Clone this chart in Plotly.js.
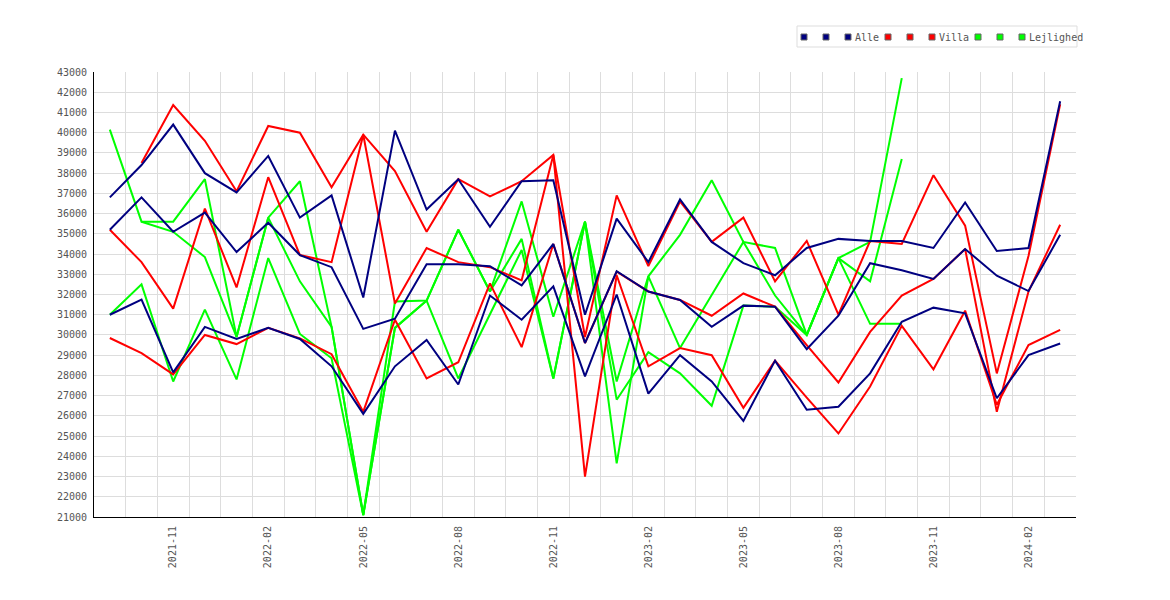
<!DOCTYPE html>
<html>
<head>
<meta charset="utf-8">
<script src="https://cdn.plot.ly/plotly-3.0.1.min.js"></script>
<style>
    html, body { margin: 0; padding: 0; background: #fff; }
    #graph { width: 1170px; height: 600px; }
</style>
</head>
<body>
<div id="graph"></div>
<script>
const months = [
    "2021-09", "2021-10", "2021-11", "2021-12",
    "2022-01", "2022-02", "2022-03", "2022-04", "2022-05", "2022-06",
    "2022-07", "2022-08", "2022-09", "2022-10", "2022-11", "2022-12",
    "2023-01", "2023-02", "2023-03", "2023-04", "2023-05", "2023-06",
    "2023-07", "2023-08", "2023-09", "2023-10", "2023-11", "2023-12",
    "2024-01", "2024-02", "2024-03"
];

// Alle
const alle1 = [36800, 38400, 40400, 38000, 37050, 38850, 35800, 36900, 31850, 40100,
    36200, 37700, 35350, 37600, 37650, 31000, 35750, 33600, 36700, 34600,
    33550, 32950, 34300, 34750, 34650, 34650, 34300, 36550, 34150, 34300, 41550];
const alle2 = [35200, 36800, 35100, 36050, 34100, 35550, 33950, 33350, 30300, 30800,
    33500, 33500, 33400, 32450, 34500, 29600, 33150, 32150, 31730, 30400,
    31450, 31400, 29300, 30950, 33550, 33200, 32770, 34250, 32930, 32170, 34950];
const alle3 = [31000, 31750, 28150, 30400, 29800, 30350, 29800, 28450, 26100, 28450,
    29750, 27550, 31950, 30750, 32400, 27950, 32000, 27100, 29000, 27700,
    25750, 28730, 26300, 26450, 28100, 30650, 31350, 31070, 26870, 29000, 29580];

// Villa
const villa1 = [null, 38500, 41370, 39600, 37100, 40330, 40000, 37300, 39900, 38100,
    35100, 37700, 36850, 37600, 38900, 29900, 36900, 33400, 36600, 34600,
    35800, 32650, 34650, 31000, 34650, 34500, 37900, 35400, 28100, 33900, 41400];
const villa2 = [35200, 33600, 31300, 36250, 32350, 37800, 33950, 33600, 39900, 31550,
    34300, 33600, 33350, 32700, 38900, 23000, 32950, 28450, 29350, 29000,
    26400, 28730, 26900, 25130, 27450, 30450, 28300, 31200, 26550, 29500, 30250];
const villa3 = [29850, 29100, 28050, 30000, 29550, 30350, 29830, 29050, 26200, 30750,
    27850, 28650, 32550, 29400, 34500, 29600, 33130, 32150, 31730, 30950,
    32050, 31400, 29500, 27650, 30150, 31950, 32770, 34250, 26200, 32150, 35450];

// Lejlighed
const lejl1 = [40150, 35600, 35600, 37700, 29900, 35800, 37600, 30400, 21100, 31650,
    31700, 35200, 32150, 36600, 30900, 35600, 27700, 32900, 34950, 37650,
    34600, 34300, 30000, 33800, 34600, 42700, null, null, null, null, null];
const lejl2 = [null, 35600, 35100, 33850, 29900, 35800, 32650, 30400, 21100, 30350,
    31700, 27850, 31000, 34200, 27850, 35600, 26800, 29150, 28100, 26500,
    31450, 31400, 30000, 33800, 32650, 38700, null, null, null, null, null];
const lejl3 = [31000, 32500, 27700, 31250, 27800, 33800, 30050, 28850, 21100, 30350,
    31700, 35200, 32150, 34750, 27850, 35600, 23650, 32900, 29350, 31950,
    34600, 31950, 30000, 33800, 30550, 30550, null, null, null, null, null];

const groupNames = ["Alle", "Villa", "Lejlighed"];

document.addEventListener("DOMContentLoaded", function () {
    const colors = { "Alle": "#000080", "Villa": "#ff0000", "Lejlighed": "#00ff00" };
    const xs = months.map(function (m, i) { return i; });

    // drawing order: green under red under navy
    const series = [
        ["Lejlighed", lejl1], ["Lejlighed", lejl2], ["Lejlighed", lejl3],
        ["Villa", villa1], ["Villa", villa2], ["Villa", villa3],
        ["Alle", alle1], ["Alle", alle2], ["Alle", alle3]
    ];
    const traces = series.map(function (s) {
        return {
            x: xs,
            y: s[1],
            type: "scatter",
            mode: "lines",
            name: s[0],
            showlegend: false,
            connectgaps: false,
            hoverinfo: "x+y",
            line: { color: colors[s[0]], width: 2 }
        };
    });

    const tickIdx = xs.filter(function (i) { return i % 3 === 2; });

    // plot box in pixels, used for the hand-drawn legend
    const L = 94, R = 1076, T = 72, B = 517;
    function px(x) { return (x - L) / (R - L); }
    function py(y) { return (B - y) / (B - T); }

    const shapes = [{
        type: "rect", xref: "paper", yref: "paper",
        x0: px(797), x1: px(1077), y0: py(47), y1: py(26),
        line: { color: "#dddddd", width: 1 }, fillcolor: "#ffffff"
    }];
    const annotations = [];
    let cx = 804;
    groupNames.forEach(function (g) {
        for (let k = 0; k < 3; k++) {
            shapes.push({
                type: "rect", xref: "paper", yref: "paper",
                x0: px(cx - 3), x1: px(cx + 3), y0: py(40), y1: py(34),
                line: { color: "#666666", width: 1 }, fillcolor: colors[g]
            });
            if (k < 2) cx += 22;
        }
        annotations.push({
            xref: "paper", yref: "paper",
            x: px(cx + 5), y: py(37.5),
            xanchor: "left", yanchor: "middle",
            showarrow: false, text: g,
            font: { family: "DejaVu Sans Mono", size: 10, color: "#555555" }
        });
        cx += 5 + g.length * 6 + 11;
    });

    const tickFont = { family: "DejaVu Sans Mono", size: 10, color: "#555555" };

    const layout = {
        width: 1170,
        height: 600,
        margin: { l: L, r: 1170 - R, t: T, b: 600 - B },
        paper_bgcolor: "#ffffff",
        plot_bgcolor: "#ffffff",
        showlegend: false,
        xaxis: {
            type: "linear",
            range: [-0.5, 30.5],
            tickmode: "array",
            tickvals: tickIdx,
            ticktext: tickIdx.map(function (i) { return months[i]; }),
            tickangle: -90,
            ticks: "",
            ticklabelstandoff: 4,
            showgrid: false,
            zeroline: false,
            showline: true,
            linecolor: "#000000",
            linewidth: 1,
            tickfont: tickFont,
            minor: {
                tickmode: "linear",
                tick0: 0.5,
                dtick: 1,
                ticks: "",
                showgrid: true,
                gridcolor: "#dddddd",
                gridwidth: 1
            }
        },
        yaxis: {
            range: [21000, 43000],
            dtick: 1000,
            tick0: 21000,
            tickformat: "d",
            ticks: "",
            ticklabelstandoff: 4,
            showgrid: true,
            gridcolor: "#dddddd",
            gridwidth: 1,
            zeroline: false,
            showline: true,
            linecolor: "#000000",
            linewidth: 1,
            tickfont: tickFont
        },
        shapes: shapes,
        annotations: annotations
    };

    Plotly.newPlot("graph", traces, layout, { displayModeBar: false, staticPlot: true });
});
</script>
</body>
</html>
